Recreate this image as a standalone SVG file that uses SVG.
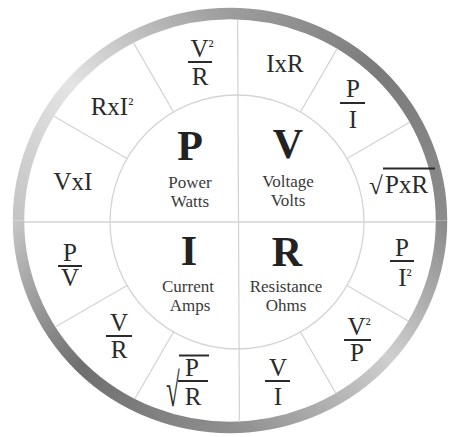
<svg xmlns="http://www.w3.org/2000/svg" width="454" height="437" viewBox="0 0 454 437">
<defs>
<style>
.div{stroke:#d4d4d4;stroke-width:1.3;fill:none}
.big{font-family:"Liberation Serif","DejaVu Serif",serif;font-weight:bold;font-size:42px;fill:#222;text-anchor:middle}
.lbl{font-family:"Liberation Serif","DejaVu Serif",serif;font-size:17px;fill:#3a3a3a;text-anchor:middle}
.f{font-family:"Liberation Serif","DejaVu Serif",serif;font-size:25px;fill:#2a2a2a;text-anchor:middle}
.fs{font-family:"Liberation Serif","DejaVu Serif",serif;font-size:25px;fill:#2a2a2a}
.sup{font-size:17px}
.bar{stroke:#2a2a2a;stroke-width:2}
.ring{fill:none;stroke-width:11.5}
</style>
<linearGradient id="g1" gradientUnits="userSpaceOnUse" x1="18.5" y1="220.5" x2="230" y2="13.5">
<stop offset="0" stop-color="#c4c4c4"/><stop offset="0.45" stop-color="#e4e4e4"/><stop offset="1" stop-color="#9c9c9c"/>
</linearGradient>
<linearGradient id="g2" gradientUnits="userSpaceOnUse" x1="230" y1="13.5" x2="441.5" y2="220.5">
<stop offset="0" stop-color="#9c9c9c"/><stop offset="0.5" stop-color="#7a7a7a"/><stop offset="1" stop-color="#8c8c8c"/>
</linearGradient>
<linearGradient id="g3" gradientUnits="userSpaceOnUse" x1="441.5" y1="220.5" x2="230" y2="427.5">
<stop offset="0" stop-color="#8c8c8c"/><stop offset="0.45" stop-color="#cfcfcf"/><stop offset="1" stop-color="#8e8e8e"/>
</linearGradient>
<linearGradient id="g4" gradientUnits="userSpaceOnUse" x1="230" y1="427.5" x2="18.5" y2="220.5">
<stop offset="0" stop-color="#8e8e8e"/><stop offset="0.5" stop-color="#6e6e6e"/><stop offset="1" stop-color="#c4c4c4"/>
</linearGradient>
<clipPath id="inside"><ellipse cx="230" cy="220.5" rx="206" ry="201.5"/></clipPath>
</defs>
<rect width="454" height="437" fill="#fff"/>
<g id="ring">
<path class="ring" stroke="url(#g1)" d="M18.5 220.5 A211.5 207 0 0 1 230 13.5"/>
<path class="ring" stroke="url(#g2)" d="M230 13.5 A211.5 207 0 0 1 441.5 220.5"/>
<path class="ring" stroke="url(#g3)" d="M441.5 220.5 A211.5 207 0 0 1 230 427.5"/>
<path class="ring" stroke="url(#g4)" d="M230 427.5 A211.5 207 0 0 1 18.5 220.5"/>
</g>
<g id="connectors" clip-path="url(#inside)">
<line class="div" x1="237.5" y1="0" x2="239.5" y2="437"/>
<line class="div" x1="0" y1="222" x2="454" y2="222"/>
<line class="div" x1="127" y1="158.5" x2="29.2" y2="102"/>
<line class="div" x1="173.5" y1="112" x2="117" y2="14.2"/>
<line class="div" x1="300.5" y1="112" x2="357" y2="14.2"/>
<line class="div" x1="347" y1="158.5" x2="444.8" y2="102"/>
<line class="div" x1="347" y1="285.5" x2="444.8" y2="342"/>
<line class="div" x1="300.5" y1="332" x2="357" y2="429.8"/>
<line class="div" x1="173.5" y1="332" x2="117" y2="429.8"/>
<line class="div" x1="127" y1="285.5" x2="29.2" y2="342"/>
<circle class="div" cx="237" cy="222" r="127"/>
</g>
<g id="node-P">
<text class="big" x="190" y="160">P</text>
<text class="lbl" x="190" y="188">Power</text>
<text class="lbl" x="190" y="207">Watts</text>
</g>
<g id="node-V">
<text class="big" x="288" y="158">V</text>
<text class="lbl" x="288" y="187">Voltage</text>
<text class="lbl" x="288" y="206">Volts</text>
</g>
<g id="node-I">
<text class="big" x="189" y="265">I</text>
<text class="lbl" x="188" y="292">Current</text>
<text class="lbl" x="190" y="311">Amps</text>
</g>
<g id="node-R">
<text class="big" x="287" y="266">R</text>
<text class="lbl" x="286" y="292">Resistance</text>
<text class="lbl" x="286" y="311">Ohms</text>
</g>
<g id="f-V2R">
<text class="f" x="202" y="57">V<tspan class="sup" dy="-5">²</tspan></text>
<line class="bar" x1="188" y1="62" x2="212" y2="62"/>
<text class="f" x="200" y="85">R</text>
</g>
<g id="f-RxI2">
<text class="f" x="112" y="115">RxI<tspan class="sup" dy="-5">²</tspan></text>
</g>
<g id="f-VxI">
<text class="f" x="73" y="190">VxI</text>
</g>
<g id="f-IxR">
<text class="f" x="285" y="72">IxR</text>
</g>
<g id="f-PI">
<text class="f" x="353" y="97">P</text>
<line class="bar" x1="340" y1="103" x2="365" y2="103"/>
<text class="f" x="353" y="128">I</text>
</g>
<g id="f-sqrtPxR">
<text class="fs" x="369" y="194">√</text>
<line class="bar" x1="383" y1="168.5" x2="435" y2="168.5"/>
<text class="fs" x="385" y="193">PxR</text>
</g>
<g id="f-PI2">
<text class="f" x="402" y="256">P</text>
<line class="bar" x1="390" y1="261" x2="414" y2="261"/>
<text class="f" x="405" y="286">I<tspan class="sup" dy="-5">²</tspan></text>
</g>
<g id="f-V2P">
<text class="f" x="359" y="335">V<tspan class="sup" dy="-5">²</tspan></text>
<line class="bar" x1="344" y1="340" x2="371" y2="340"/>
<text class="f" x="357" y="361">P</text>
</g>
<g id="f-VI">
<text class="f" x="278" y="376">V</text>
<line class="bar" x1="265" y1="381" x2="290" y2="381"/>
<text class="f" x="278" y="405">I</text>
</g>
<g id="f-sqrtPR">
<text class="fs" transform="translate(166 406) scale(1 1.9)" x="0" y="0">√</text>
<line class="bar" x1="179" y1="355.5" x2="209" y2="355.5"/>
<text class="f" x="192" y="376">P</text>
<line class="bar" x1="178" y1="381" x2="208" y2="381"/>
<text class="f" x="193" y="405">R</text>
</g>
<g id="f-VR">
<text class="f" x="119" y="331">V</text>
<line class="bar" x1="106" y1="336" x2="132" y2="336"/>
<text class="f" x="119" y="358">R</text>
</g>
<g id="f-PV">
<text class="f" x="70" y="261">P</text>
<line class="bar" x1="58" y1="266" x2="82" y2="266"/>
<text class="f" x="70" y="286">V</text>
</g>
</svg>
